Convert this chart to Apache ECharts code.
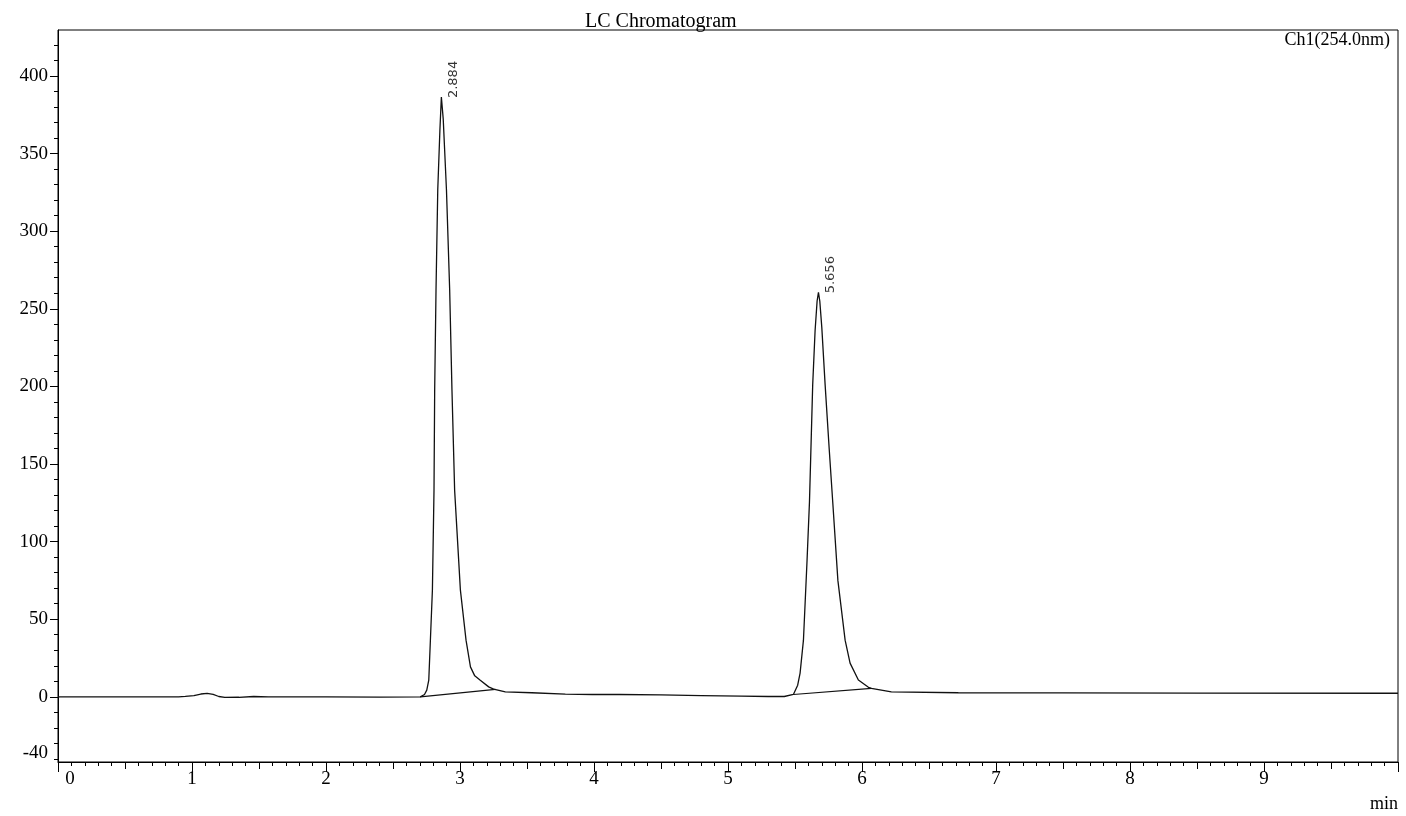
<!DOCTYPE html>
<html>
<head>
<meta charset="utf-8">
<title>LC Chromatogram</title>
<script src="https://cdn.jsdelivr.net/npm/echarts@6/dist/echarts.min.js"></script>
<style>
    html, body { margin: 0; padding: 0; background: #fff; }
    #chart { width: 1406px; height: 816px; }
</style>
</head>
<body>
<div id="chart"></div>
<script>
// retention time (min) and detector signal
var times = [0, 0.5, 0.9, 0.95, 1.014, 1.066, 1.113, 1.158, 1.2, 1.245, 1.35, 1.46, 1.57, 2.0, 2.4, 2.704,
    2.735, 2.752, 2.767, 2.779, 2.794, 2.806, 2.811, 2.821, 2.834, 2.85, 2.861, 2.875, 2.899, 2.923, 2.94,
    2.96, 3.003, 3.045, 3.078, 3.11, 3.149, 3.214, 3.251, 3.264, 3.338, 3.535, 3.786, 3.987, 4.188, 4.5, 4.8,
    5.1, 5.3, 5.42, 5.488, 5.501, 5.52, 5.538, 5.563, 5.59, 5.608, 5.632, 5.65, 5.665, 5.675, 5.685, 5.7, 5.725,
    5.755, 5.782, 5.82, 5.874, 5.911, 5.973, 6.048, 6.07, 6.219, 6.719, 7.5, 8.5, 10]
var signal = [0, 0, 0, 0.3, 0.8, 1.8, 2.2, 1.5, 0.2, -0.4, -0.3, 0.2, 0, -0.1, -0.2, 0,
    1.5, 4.3, 10.8, 36.5, 68.7, 133, 197.6, 262, 326.5, 365, 386.4, 372, 326.5, 262, 197.6,
    133, 68.7, 36.5, 19.3, 13.5, 10.8, 6.4, 5.0, 4.8, 3.2, 2.6, 1.7, 1.5, 1.5, 1.2, 0.8,
    0.5, 0.2, 0.2, 1.5, 2.2, 7.5, 15.3, 36.5, 88, 125.6, 200.8, 236, 255, 260.6, 255, 238, 200.8,
    160, 125, 75, 36.5, 21.7, 10.8, 6.1, 5.4, 3.2, 2.6, 2.5, 2.4, 2.3]

// integration baselines drawn under each peak
var base1 = [[2.704, 0], [3.264, 4.8]]
var base2 = [[5.488, 1.5], [6.07, 5.4]]

// peak apex and retention time labels
var peakTimes = [2.861, 5.675]
var peakHeights = [386.4, 260.6]
var peakLabels = ['2.884', '5.656']

var yMin = -42
var yMax = 429.6
var yLabelValues = [-42, 0, 50, 100, 150, 200, 250, 300, 350, 400]
var yMajorTicks = [0, 50, 100, 150, 200, 250, 300, 350, 400]
var yMinorTicks = [-40, -30, -20, -10, 0, 10, 20, 30, 40, 60, 70, 80, 90, 110, 120, 130, 140, 160, 170, 180, 190,
    210, 220, 230, 240, 260, 270, 280, 290, 310, 320, 330, 340, 360, 370, 380, 390, 410, 420]

var serif = '"Liberation Serif", "DejaVu Serif", serif'

var chart = echarts.init(document.getElementById('chart'))

var traceData = []
for (var i = 0; i < times.length; i++) {
    traceData.push([times[i], signal[i]])
}
var peakData = []
for (var j = 0; j < peakTimes.length; j++) {
    peakData.push({ value: [peakTimes[j], peakHeights[j]], name: peakLabels[j] })
}

chart.setOption({
    animation: false,
    backgroundColor: '#fff',
    title: {
        text: 'LC Chromatogram',
        left: 580,
        top: 7,
        textStyle: { fontFamily: serif, fontSize: 20, fontWeight: 'normal', color: '#000' }
    },
    grid: {
        left: 58,
        right: 8,
        top: 30,
        bottom: 54,
        show: true,
        borderColor: '#000',
        borderWidth: 1
    },
    graphic: [
        {
            type: 'text',
            right: 16,
            top: 31,
            style: { text: 'Ch1(254.0nm)', font: '18px ' + serif, fill: '#000' }
        },
        {
            type: 'text',
            right: 8,
            top: 795,
            style: { text: 'min', font: '18px ' + serif, fill: '#000' }
        }
    ],
    xAxis: [
        {
            type: 'value',
            min: 0,
            max: 10,
            interval: 1,
            axisLine: { onZero: false, lineStyle: { color: '#000', width: 1 } },
            axisTick: { show: true, inside: false, length: 10, lineStyle: { color: '#000' } },
            minorTick: { show: true, splitNumber: 10, length: 4, lineStyle: { color: '#000' } },
            splitLine: { show: false },
            axisLabel: {
                fontFamily: serif,
                fontSize: 19,
                color: '#000',
                margin: 8,
                showMaxLabel: false,
                formatter: function (v) {
                    return v === 0 ? '{z|0}' : String(v)
                },
                rich: {
                    z: { fontFamily: serif, fontSize: 19, color: '#000', padding: [0, 0, 0, 24] }
                }
            }
        },
        {
            // half-minute ticks, a bit longer than the minor ones
            type: 'value',
            min: 0,
            max: 10,
            interval: 0.5,
            position: 'bottom',
            axisLine: { show: false, onZero: false },
            axisTick: { show: true, length: 7, lineStyle: { color: '#000' } },
            axisLabel: { show: false },
            splitLine: { show: false }
        }
    ],
    yAxis: [
        {
            type: 'value',
            min: yMin,
            max: yMax,
            axisLine: { show: true, onZero: false, lineStyle: { color: '#000', width: 1 } },
            axisTick: { show: true, length: 8, customValues: yMajorTicks, lineStyle: { color: '#000' } },
            splitLine: { show: false },
            axisLabel: {
                customValues: yLabelValues,
                fontFamily: serif,
                fontSize: 19,
                color: '#000',
                margin: 10,
                formatter: function (v) {
                    return v === yMin ? '{lo|-40}' : String(v)
                },
                rich: {
                    lo: { fontFamily: serif, fontSize: 19, color: '#000', padding: [0, 0, 18, 0] }
                }
            }
        },
        {
            type: 'value',
            min: yMin,
            max: yMax,
            position: 'left',
            axisLine: { show: false, onZero: false },
            axisTick: { show: true, length: 4, customValues: yMinorTicks, lineStyle: { color: '#000' } },
            axisLabel: { show: false },
            splitLine: { show: false }
        }
    ],
    series: [
        {
            name: 'Ch1',
            type: 'line',
            data: traceData,
            showSymbol: false,
            smooth: false,
            lineStyle: { color: '#111', width: 1.3 }
        },
        {
            name: 'base1',
            type: 'line',
            data: base1,
            showSymbol: false,
            lineStyle: { color: '#111', width: 1.2 }
        },
        {
            name: 'base2',
            type: 'line',
            data: base2,
            showSymbol: false,
            lineStyle: { color: '#111', width: 1.2 }
        },
        {
            name: 'peaks',
            type: 'scatter',
            data: peakData,
            symbolSize: 0,
            label: {
                show: true,
                formatter: '{b}',
                rotate: 90,
                position: [12, 1],
                align: 'left',
                verticalAlign: 'middle',
                fontFamily: '"DejaVu Sans", sans-serif',
                fontSize: 13,
                color: '#000'
            }
        }
    ]
})
</script>
</body>
</html>
